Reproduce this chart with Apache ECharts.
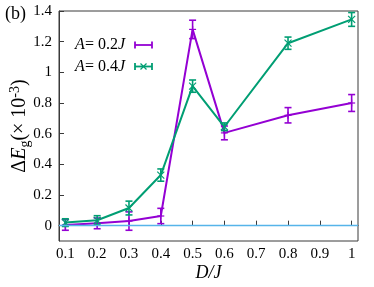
<!DOCTYPE html>
<html><head><meta charset="utf-8">
<script src="https://cdn.jsdelivr.net/npm/echarts@6/dist/echarts.min.js"></script>
<style>html,body{margin:0;padding:0;background:#fff}#c{width:374px;height:287px}</style>
</head><body><div id="c"></div>
<script>
const xValues = [0.1, 0.2, 0.3, 0.4, 0.5, 0.6, 0.8, 1.0];
const a02Values = [0.005, 0.015, 0.03, 0.063, 1.28, 0.605, 0.72, 0.80];
const a02Errors = [0.035, 0.035, 0.06, 0.05, 0.06, 0.045, 0.05, 0.055];
const a04Values = [0.02, 0.035, 0.115, 0.33, 0.91, 0.645, 1.19, 1.345];
const a04Errors = [0.025, 0.03, 0.045, 0.04, 0.04, 0.025, 0.04, 0.045];
const xTicks = [0.1, 0.2, 0.3, 0.4, 0.5, 0.6, 0.7, 0.8, 0.9, 1];
const yTicks = [0, 0.2, 0.4, 0.6, 0.8, 1, 1.2, 1.4];
const seriesNames = ['A= 0.2J', 'A= 0.4J'];

const PURPLE = '#9400d3', GREEN = '#009e73', FRAME = '#3a3a3a', SERIF = 'Liberation Serif';

function errRender(color, marker) {
  return function (params, api) {
    const x = api.value(0), y = api.value(1), e = api.value(2);
    const t = api.coord([x, y + e]), b = api.coord([x, y - e]), c = api.coord([x, y]);
    const hw = 3.5, st = { stroke: color, lineWidth: 1.6 };
    const ch = [
      { type: 'line', shape: { x1: t[0], y1: t[1], x2: b[0], y2: b[1] }, style: st },
      { type: 'line', shape: { x1: t[0] - hw, y1: t[1], x2: t[0] + hw, y2: t[1] }, style: st },
      { type: 'line', shape: { x1: b[0] - hw, y1: b[1], x2: b[0] + hw, y2: b[1] }, style: st }
    ];
    const m = 3.5;
    if (marker === 'plus') {
      ch.push({ type: 'line', shape: { x1: c[0] - m, y1: c[1], x2: c[0] + m, y2: c[1] }, style: { stroke: color, lineWidth: 1.2 } });
      ch.push({ type: 'line', shape: { x1: c[0], y1: c[1] - m, x2: c[0], y2: c[1] + m }, style: { stroke: color, lineWidth: 1.2 } });
    } else {
      ch.push({ type: 'line', shape: { x1: c[0] - m, y1: c[1] - m, x2: c[0] + m, y2: c[1] + m }, style: { stroke: color, lineWidth: 1.2 } });
      ch.push({ type: 'line', shape: { x1: c[0] - m, y1: c[1] + m, x2: c[0] + m, y2: c[1] - m }, style: { stroke: color, lineWidth: 1.2 } });
    }
    return { type: 'group', children: ch };
  };
}

const chart = echarts.init(document.getElementById('c'), null, { renderer: 'canvas' });
const richMain = { i: { fontFamily: SERIF, fontStyle: 'italic', fontSize: 16, color: '#000' }, n: { fontFamily: SERIF, fontSize: 16, color: '#000' } };

function legendItem(y, name, color, marker) {
  const parts = name.match(/^(A)(= [0-9.]+)(J)$/);
  const st = { stroke: color, lineWidth: 1.8 };
  const items = [
    { type: 'text', x: 125, y: y, style: { text: '{i|' + parts[1] + '}{n|' + parts[2] + '}{i|' + parts[3] + '}', rich: richMain, align: 'right', verticalAlign: 'middle' } },
    { type: 'line', shape: { x1: 135, y1: y, x2: 152, y2: y }, style: st },
    { type: 'line', shape: { x1: 135, y1: y - 3.5, x2: 135, y2: y + 3.5 }, style: st },
    { type: 'line', shape: { x1: 152, y1: y - 3.5, x2: 152, y2: y + 3.5 }, style: st }
  ];
  if (marker === 'cross') {
    items.push({ type: 'line', shape: { x1: 140.5, y1: y - 3, x2: 146.5, y2: y + 3 }, style: { stroke: color, lineWidth: 1.2 } });
    items.push({ type: 'line', shape: { x1: 140.5, y1: y + 3, x2: 146.5, y2: y - 3 }, style: { stroke: color, lineWidth: 1.2 } });
  }
  return items;
}

const option = {
  animation: false,
  backgroundColor: '#fff',
  grid: { left: 59, right: 16, top: 11, bottom: 46, show: true, borderColor: FRAME, borderWidth: 1, containLabel: false, outerBoundsMode: 'none' },
  xAxis: {
    type: 'value', min: 0.08, max: 1.02,
    name: 'D/J', nameLocation: 'middle', nameGap: 23, nameMoveOverlap: false,
    nameTextStyle: { fontFamily: SERIF, fontStyle: 'italic', fontSize: 18, color: '#000' },
    axisLine: { show: true, lineStyle: { color: FRAME, width: 1 } },
    axisTick: { show: true, inside: true, length: 5, lineStyle: { color: FRAME }, customValues: xTicks },
    axisLabel: { customValues: xTicks, fontFamily: SERIF, fontSize: 15, color: '#000', margin: 6, formatter: v => (v === 1 ? '1' : v.toFixed(1)) },
    splitLine: { show: false }
  },
  yAxis: {
    type: 'value', min: -0.1, max: 1.4,
    name: '{a|Δ}{i|E}{sub|g}{a|(× 10}{sup|-3}{a|)}', nameLocation: 'middle', nameRotate: 90, nameGap: 27, nameMoveOverlap: false,
    nameTextStyle: {
      color: '#000',
      rich: {
        a: { fontFamily: SERIF, fontSize: 20, lineHeight: 24, color: '#000' },
        i: { fontFamily: SERIF, fontStyle: 'italic', fontSize: 20, lineHeight: 24, color: '#000' },
        sub: { fontFamily: SERIF, fontSize: 14, lineHeight: 13, verticalAlign: 'bottom', color: '#000' },
        sup: { fontFamily: SERIF, fontSize: 14, lineHeight: 13, verticalAlign: 'top', color: '#000' }
      }
    },
    axisLine: { show: true, lineStyle: { color: FRAME, width: 1 } },
    axisTick: { show: true, inside: true, length: 5, lineStyle: { color: FRAME }, customValues: yTicks },
    axisLabel: { customValues: yTicks, fontFamily: SERIF, fontSize: 15, color: '#000', margin: 7, formatter: v => (v === 0 || v === 1 ? String(v) : v.toFixed(1)) },
    splitLine: { show: false }
  },
  graphic: [
    { type: 'text', x: 5, y: 14, style: { text: '(b)', fontFamily: SERIF, fontSize: 18, fill: '#000', align: 'left', verticalAlign: 'middle' } },
    ...legendItem(45, seriesNames[0], PURPLE, 'plus'),
    ...legendItem(66.5, seriesNames[1], GREEN, 'cross')
  ],
  series: [
    {
      type: 'line', name: seriesNames[0], data: xValues.map((x, i) => [x, a02Values[i]]),
      showSymbol: false, lineStyle: { color: PURPLE, width: 2 }, z: 3,
      markLine: { silent: true, symbol: 'none', label: { show: false }, lineStyle: { color: '#56b4e9', width: 1.3, type: 'solid' }, data: [{ yAxis: 0 }] }
    },
    { type: 'custom', name: seriesNames[0] + ' err', data: xValues.map((x, i) => [x, a02Values[i], a02Errors[i]]), renderItem: errRender(PURPLE, 'plus'), z: 4 },
    { type: 'line', name: seriesNames[1], data: xValues.map((x, i) => [x, a04Values[i]]), showSymbol: false, lineStyle: { color: GREEN, width: 2 }, z: 3 },
    { type: 'custom', name: seriesNames[1] + ' err', data: xValues.map((x, i) => [x, a04Values[i], a04Errors[i]]), renderItem: errRender(GREEN, 'cross'), z: 4 }
  ]
};
chart.setOption(option);
</script>
</body></html>
